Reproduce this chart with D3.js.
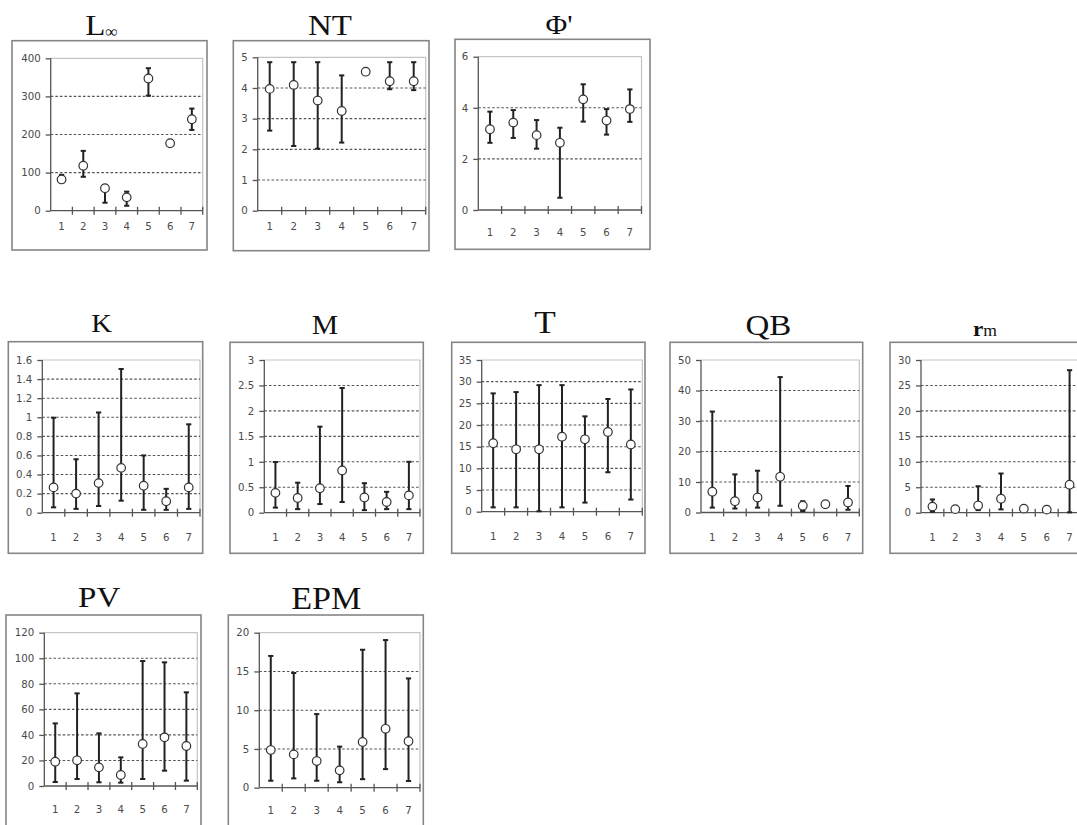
<!DOCTYPE html>
<html><head><meta charset="utf-8">
<script src="https://cdn.jsdelivr.net/npm/d3@7"></script>
<style>
html,body{margin:0;padding:0;background:#fff;overflow:hidden}
svg{display:block}
.tl text{font-family:"DejaVu Sans",Verdana,sans-serif;font-size:10.2px;fill:#4a4a4a}
</style></head>
<body>
<svg id="c" width="1077" height="825"></svg>
<script>
// ---------- data ----------
const categories = ["1","2","3","4","5","6","7"];

const LinfMean = [82,118,59,35,347,177,240];
const LinfLow  = [74,89,21,13,302,172,212];
const LinfHigh = [94,157,67,50,374,184,268];
const LinfTicks = [0,100,200,300,400];

const NTMean = [3.97,4.10,3.59,3.25,4.53,4.22,4.22];
const NTLow  = [2.61,2.11,2.02,2.22,4.48,3.96,3.93];
const NTHigh = [4.84,4.84,4.84,4.41,4.59,4.84,4.84];
const NTTicks = [0,1,2,3,4,5];

const PhiMean = [3.16,3.42,2.93,2.63,4.33,3.50,3.95];
const PhiLow  = [2.63,2.82,2.40,0.48,3.46,2.95,3.45];
const PhiHigh = [3.85,3.91,3.52,3.22,4.92,3.95,4.72];
const PhiTicks = [0,2,4,6];

const KMean = [0.265,0.20,0.31,0.47,0.283,0.12,0.265];
const KLow  = [0.056,0.04,0.07,0.126,0.03,0.03,0.04];
const KHigh = [0.995,0.56,1.05,1.506,0.60,0.25,0.926];
const KTicks = [0,0.2,0.4,0.6,0.8,1,1.2,1.4,1.6];

const MMean = [0.39,0.29,0.48,0.83,0.30,0.21,0.34];
const MLow  = [0.10,0.07,0.17,0.21,0.05,0.07,0.07];
const MHigh = [0.995,0.59,1.69,2.45,0.58,0.41,1.0];
const MTicks = [0,0.5,1,1.5,2,2.5,3];

const TMean = [15.8,14.4,14.4,17.3,16.7,18.4,15.5];
const TLow  = [1.0,1.0,0.1,1.0,2.1,9.1,2.8];
const THigh = [27.3,27.6,29.2,29.2,22.0,26.0,28.2];
const TTicks = [0,5,10,15,20,25,30,35];

const QBMean = [6.8,3.7,4.9,11.7,2.2,2.7,3.3];
const QBLow  = [1.6,1.3,1.6,2.2,0.5,2.2,0.9];
const QBHigh = [33.1,12.5,13.7,44.4,3.7,3.3,8.7];
const QBTicks = [0,10,20,30,40,50];

const RmMean = [1.2,0.7,1.4,2.75,0.8,0.6,5.5];
const RmLow  = [0.2,0.4,0.5,0.65,0.4,0.3,0.07];
const RmHigh = [2.6,1.2,5.2,7.7,1.2,1.2,28.0];
const RmTicks = [0,5,10,15,20,25,30];

const PVMean = [19.0,20.1,14.6,8.6,32.9,38.1,31.3];
const PVLow  = [3.1,5.5,2.9,2.6,5.5,12.0,4.2];
const PVHigh = [49.0,72.5,41.2,22.4,97.8,96.8,73.3];
const PVTicks = [0,20,40,60,80,100,120];

const EPMMean = [4.86,4.3,3.44,2.24,5.9,7.6,6.0];
const EPMLow  = [0.9,1.2,0.9,0.7,1.1,2.4,0.86];
const EPMHigh = [17.0,14.8,9.5,5.3,17.8,19.05,14.1];
const EPMTicks = [0,5,10,15,20];

// ---------- layout (positions only) ----------
const panels = [
 {title:[["L",30,null,0],["∞",16,null,2]], mean:LinfMean, low:LinfLow, high:LinfHigh, ticks:LinfTicks,
  frame:[12,40.7,207,250], plot:[50.7,58.3,202.7,210.7], tx:101.5, ty:35, ldy:20},
 {title:[["NT",30,null,0]], mean:NTMean, low:NTLow, high:NTHigh, ticks:NTTicks,
  frame:[233.3,40.7,429,250.7], plot:[257.7,57.3,425.7,210.7], tx:330, ty:35, ldy:19.5},
 {title:[["Φ'",27,null,0]], mean:PhiMean, low:PhiLow, high:PhiHigh, ticks:PhiTicks,
  frame:[455,39.3,650,249.3], plot:[478.3,56.7,641.5,210], tx:559, ty:33.5, ldy:26.5},
 {title:[["K",26,null,0]], mean:KMean, low:KLow, high:KHigh, ticks:KTicks,
  frame:[8.3,341.7,202.7,553.3], plot:[42.3,360,200,512.7], tx:101.7, ty:332, ldy:29},
 {title:[["M",27,null,0]], mean:MMean, low:MLow, high:MHigh, ticks:MTicks,
  frame:[230,342.3,423.3,553.3], plot:[264.3,360,420,512.7], tx:325, ty:334, ldy:29},
 {title:[["T",32,null,0]], mean:TMean, low:TLow, high:THigh, ticks:TTicks,
  frame:[451.7,342.3,645,553.3], plot:[481.7,360,642.3,511.7], tx:545, ty:332.7, ldy:28.5},
 {title:[["QB",30,null,0]], mean:QBMean, low:QBLow, high:QBHigh, ticks:QBTicks,
  frame:[670,342.3,862.7,553.3], plot:[701,360,859.3,512.5], tx:768.3, ty:335, ldy:29},
 {title:[["r",21,"bold",0],["m",16,null,0]], mean:RmMean, low:RmLow, high:RmHigh, ticks:RmTicks,
  frame:[890,342.3,1085,553.3], plot:[921,360,1081,512.7], tx:985, ty:335.7, ldy:29},
 {title:[["PV",30,null,0]], mean:PVMean, low:PVLow, high:PVHigh, ticks:PVTicks,
  frame:[6,615,201,830], plot:[44.3,632.7,197.3,786], tx:99.2, ty:606.7, ldy:27},
 {title:[["EPM",31,null,0]], mean:EPMMean, low:EPMLow, high:EPMHigh, ticks:EPMTicks,
  frame:[228.3,615,423.3,830], plot:[259.3,632.7,420,787.7], tx:326.3, ty:609.3, ldy:26.5}
];

const svg = d3.select("#c");

panels.forEach(p => {
  const g = svg.append("g");
  const [fx0,fy0,fx1,fy1] = p.frame;
  const [L,T,R,B] = p.plot;
  // frame
  g.append("rect").attr("x",fx0).attr("y",fy0).attr("width",fx1-fx0).attr("height",fy1-fy0)
    .attr("fill","#fff").attr("stroke","#858585").attr("stroke-width",1.6);
  // title
  const tg = g.append("g").attr("transform",`translate(${p.tx},${p.ty}) scale(1.1,1)`);
  const tt = tg.append("text").attr("text-anchor","middle")
    .attr("font-family","'Liberation Serif','Times New Roman',serif").attr("fill","#111");
  p.title.forEach(([s,size,w,dy]) => {
    tt.append("tspan").text(s).attr("font-size",size).attr("font-weight",w||"normal").attr("dy",dy);
  });

  const x = d3.scaleBand().domain(categories).range([L,R]).padding(0);
  const ymax = d3.max(p.ticks);
  const y = d3.scaleLinear().domain([0,ymax]).range([B,T]);

  // plot border (top/right light gray)
  g.append("path").attr("d",`M${L},${T}H${R}V${B}`).attr("fill","none")
    .attr("stroke","#c4c4c4").attr("stroke-width",1.2);
  // gridlines
  g.selectAll(".grid").data(p.ticks.filter(t=>t>0 && t<ymax)).join("line")
    .attr("x1",L).attr("x2",R).attr("y1",d=>y(d)).attr("y2",d=>y(d))
    .attr("stroke","#555").attr("stroke-width",1.1).attr("stroke-dasharray","2.6,2");
  // y axis
  const ya = g.append("g").attr("class","tl").attr("transform",`translate(${L},0)`)
    .call(d3.axisLeft(y).tickValues(p.ticks).tickSize(5).tickPadding(5).tickFormat(d=>String(+d.toFixed(2))));
  ya.select(".domain").attr("stroke","#555").attr("stroke-width",1.3).attr("d",`M0,${B}V${T}`);
  ya.selectAll(".tick line").attr("stroke","#555").attr("stroke-width",1.3);
  // x axis
  const xa = g.append("g").attr("class","tl").attr("transform",`translate(0,${B})`)
    .call(d3.axisBottom(x).tickSize(0).tickPadding(p.ldy-7.5));
  xa.select(".domain").attr("stroke","#555").attr("stroke-width",1.3).attr("d",`M${L},0H${R}`);
  const bounds = categories.map(c => x(c) + x.bandwidth());
  g.selectAll(".xt").data(bounds).join("line")
    .attr("x1",d=>d).attr("x2",d=>d).attr("y1",B-4).attr("y2",B+4)
    .attr("stroke","#555").attr("stroke-width",1.3);
  // error bars
  const cx = i => x(categories[i]) + x.bandwidth()/2;
  const idx = d3.range(categories.length);
  g.selectAll(".eb").data(idx).join("line")
    .attr("x1",cx).attr("x2",cx).attr("y1",i=>y(p.low[i])).attr("y2",i=>y(p.high[i]))
    .attr("stroke","#222").attr("stroke-width",2);
  ["low","high"].forEach(k => {
    g.selectAll(".cap"+k).data(idx).join("line")
      .attr("x1",i=>cx(i)-2.6).attr("x2",i=>cx(i)+2.6)
      .attr("y1",i=>y(p[k][i])).attr("y2",i=>y(p[k][i]))
      .attr("stroke","#222").attr("stroke-width",2);
  });
  g.selectAll(".pt").data(idx).join("circle")
    .attr("cx",cx).attr("cy",i=>y(p.mean[i])).attr("r",4.3)
    .attr("fill","#fff").attr("stroke","#333").attr("stroke-width",1.2);
});
</script>
</body></html>
